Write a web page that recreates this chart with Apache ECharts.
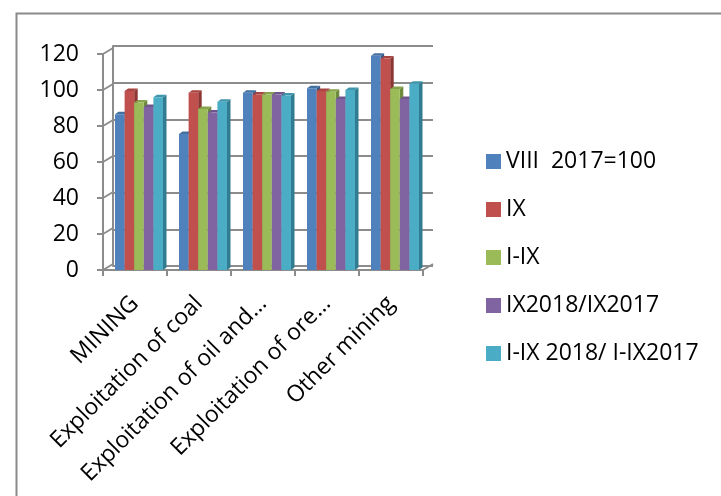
<!DOCTYPE html>
<html><head><meta charset="utf-8">
<script src="https://cdn.jsdelivr.net/npm/echarts@6/dist/echarts.min.js"></script>
<style>html,body{margin:0;padding:0;background:#fff;}#c{width:721px;height:496px;}</style>
</head><body><div id="c"></div>
<script>
const categories = ['MINING', 'Exploitation of coal', 'Exploitation of oil and…', 'Exploitation of ore…', 'Other mining'];
const seriesNames = ['VIII  2017=100', 'IX', 'I-IX', 'IX2018/IX2017', 'I-IX 2018/ I-IX2017'];
const viii2017 = [86.5, 75.5, 98.5, 101, 119];
const ix = [99.5, 98.5, 97.5, 99.5, 117.5];
const iToIx = [93, 89.5, 97.5, 99, 100.5];
const ix2018 = [90.5, 87.5, 97.5, 95, 95];
const iIx2018 = [96, 93.5, 97, 100, 103.5];
const yTicks = [0, 20, 40, 60, 80, 100, 120];

const allValues = [viii2017, ix, iToIx, ix2018, iIx2018];
const colors = ['#4F81BD', '#C0504D', '#9BBB59', '#8064A2', '#4BACC6'];
const sideColors = ['#36598A', '#8C3533', '#6E8A3C', '#5A4576', '#317C90'];
const topColors = ['#44709F', '#A84441', '#86A24B', '#6E568C', '#3F96AD'];
const FONT = 'Open Sans';
const DX = 3.5, DY = 2.5;
const GRID_GRAY = '#8C8C8C';

function barRenderer(sIdx) {
  return function (params, api) {
    const cat = api.value(0), v = api.value(1);
    const base = api.coord([cat, 0]);
    const top = api.coord([cat, v]);
    const band = api.size([1, 0])[0];
    const w = band * 0.15;
    const x0 = base[0] - band / 2 + band * 0.1875 + sIdx * w;
    const yT = top[1], yB = base[1];
    return {
      type: 'group',
      children: [
        { type: 'polygon', shape: { points: [[x0 + w, yT], [x0 + w + DX, yT - DY], [x0 + w + DX, yB - DY], [x0 + w, yB]] },
          style: { fill: sideColors[sIdx] } },
        { type: 'polygon', shape: { points: [[x0, yT], [x0 + DX, yT - DY], [x0 + w + DX, yT - DY], [x0 + w, yT]] },
          style: { fill: topColors[sIdx] } },
        { type: 'rect', shape: { x: x0, y: yT, width: w, height: yB - yT },
          style: { fill: colors[sIdx] } }
      ]
    };
  };
}

const barSeries = allValues.map((vals, s) => ({
  name: seriesNames[s],
  type: 'custom',
  xAxisIndex: 0, yAxisIndex: 0,
  itemStyle: { color: colors[s] },
  renderItem: barRenderer(s),
  encode: { x: 0, y: 1 },
  data: vals.map((v, i) => [i, v]),
  z: 5
}));

const connectorSeries = {
  type: 'custom',
  xAxisIndex: 0, yAxisIndex: 0,
  silent: true,
  renderItem: function (params, api) {
    const v = api.value(1);
    const cs = params.coordSys;
    const p = api.coord([0, v]);
    const children = [{ type: 'line', shape: { x1: cs.x, y1: p[1], x2: cs.x + 10, y2: p[1] - 6 },
      style: { stroke: GRID_GRAY, lineWidth: 2 } }];
    if (v === 0) {
      children.push({ type: 'line', shape: { x1: cs.x + cs.width, y1: p[1], x2: cs.x + cs.width + 10, y2: p[1] - 6 },
        style: { stroke: GRID_GRAY, lineWidth: 2 } });
    }
    return { type: 'group', children: children };
  },
  encode: { x: 0, y: 1 },
  data: yTicks.map(t => [0, t]),
  z: 2
};

const chart = echarts.init(document.getElementById('c'), null, { renderer: 'canvas' });
chart.setOption({
  animation: false,
  backgroundColor: '#fff',
  textStyle: { fontFamily: FONT },
  graphic: [{ type: 'rect', left: 14, top: 11, shape: { width: 800, height: 600 },
    style: { fill: 'none', stroke: '#8A8A8A', lineWidth: 2 }, silent: true }],
  legend: {
    orient: 'vertical', left: 486, top: 150, padding: 0,
    itemWidth: 15, itemHeight: 15, itemGap: 25, icon: 'rect',
    textStyle: { fontSize: 23, fontFamily: FONT, color: '#000', lineHeight: 23 },
    data: seriesNames
  },
  grid: [
    { left: 103, top: 54, width: 320, height: 216 },
    { left: 113, top: 46, width: 320, height: 220 }
  ],
  xAxis: [
    { type: 'category', gridIndex: 0, data: categories,
      axisLine: { lineStyle: { color: GRID_GRAY, width: 2 } },
      axisTick: { show: true, length: 6, lineStyle: { color: GRID_GRAY, width: 2 } },
      axisLabel: { rotate: 45, margin: 30, fontSize: 23, fontFamily: FONT, color: '#000', interval: 0 } },
    { type: 'category', gridIndex: 1, data: categories, show: false }
  ],
  yAxis: [
    { type: 'value', gridIndex: 0, min: 0, max: 120, interval: 20,
      axisLine: { show: true, lineStyle: { color: GRID_GRAY, width: 2 } },
      axisTick: { show: true, length: 6, lineStyle: { color: GRID_GRAY, width: 2 } },
      splitLine: { show: false },
      axisLabel: { margin: 24, fontSize: 23, fontFamily: FONT, color: '#000', padding: [8, 0, 0, 0] } },
    { type: 'value', gridIndex: 1, min: 0, max: 120, interval: 20,
      axisLine: { show: true, lineStyle: { color: GRID_GRAY, width: 2 } },
      axisTick: { show: false }, axisLabel: { show: false },
      splitLine: { show: true, lineStyle: { color: GRID_GRAY, width: 2 } } }
  ],
  series: [connectorSeries].concat(barSeries)
});
</script></body></html>
